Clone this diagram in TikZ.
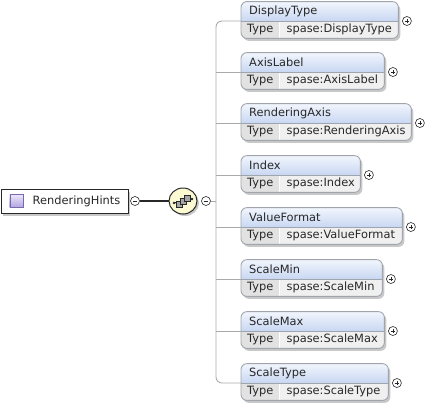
\documentclass[tikz,border=0pt]{standalone}
\usepackage{fontspec}
\setmainfont{DejaVu Sans}
\usetikzlibrary{shapes.geometric,backgrounds}
\definecolor{ink}{RGB}{40,40,40}
\definecolor{frame}{RGB}{160,164,172}
\definecolor{tree}{RGB}{170,170,170}
\definecolor{headtop}{RGB}{242,246,253}
\definecolor{headbot}{RGB}{200,215,242}
\definecolor{typegray}{RGB}{226,226,226}
\definecolor{valgray}{RGB}{240,240,240}
\definecolor{shadowc}{RGB}{200,200,200}
\definecolor{cream}{RGB}{252,250,210}
\definecolor{lavtop}{RGB}{236,230,250}
\definecolor{lavbot}{RGB}{178,164,222}
\definecolor{lavedge}{RGB}{120,104,176}

\tikzset{
  txt/.style={font=\fontsize{11.4}{13}\selectfont, text=ink, inner sep=0pt},
  elbox/.style={anchor=south west, minimum height=19pt, inner sep=0pt},
  elname/.style={txt, anchor=west},
  eltype/.style={txt, anchor=north west, minimum width=38pt, minimum height=17pt},
  elval/.style={txt, anchor=west},
  minusc/.style={circle, draw=ink, fill=white, line width=0.6pt, minimum size=9pt, inner sep=0pt,
    path picture={\draw[ink, line width=0.8pt]
      ([xshift=-2.2pt]path picture bounding box.center) -- ([xshift=2.2pt]path picture bounding box.center);}},
  plusc/.style={minusc,
    path picture={\draw[ink, line width=0.8pt]
      ([xshift=-2.2pt]path picture bounding box.center) -- ([xshift=2.2pt]path picture bounding box.center)
      ([yshift=-2.2pt]path picture bounding box.center) -- ([yshift=2.2pt]path picture bounding box.center);}},
  treeline/.style={draw=tree, line width=0.9pt},
}

\begin{document}
\begin{tikzpicture}[x=1pt, y=-1pt]
  \useasboundingbox (0,0) rectangle (427,408);

  % root element
  \fill[shadowc] (3,192) rectangle (130,216);
  \node[draw=ink, fill=white, line width=1pt, anchor=west, minimum width=127pt,
        minimum height=24pt, inner sep=0pt] (rh) at (0.5,201) {};
  \node[anchor=west, minimum size=13pt, inner sep=0pt, draw=lavedge,
        top color=lavtop, bottom color=lavbot] (rhi) at ([xshift=9pt]rh.west) {};
  \node[txt, anchor=west] (rhn) at ([xshift=32pt]rh.west) {RenderingHints};
  \node[minusc] (rhm) at (135,201) {};

  % sequence compositor
  \fill[shadowc] (185,203) ellipse (14 and 13);
  \node[ellipse, draw=ink, fill=cream, line width=1pt, minimum width=28pt,
        minimum height=26pt, inner sep=0pt] (seq) at (183,201) {};
  \begin{scope}[shift={(seq.center)}]
    \draw[ink, line width=1pt] (-9,2) -- (9,-2);
    \fill[ink] (-9,2) circle (1.3) (9,-2) circle (1.3);
    \draw[ink, fill=gray!70, line width=0.6pt] (-7,0) rectangle (-1,6);
    \draw[ink, fill=gray!70, line width=0.6pt] (-3,-3) rectangle (3,3);
    \draw[ink, fill=gray!70, line width=0.6pt] (1,-6) rectangle (7,0);
  \end{scope}
  \node[minusc] (seqm) at (206,201) {};
  \draw[ink, line width=1.4pt] (rhm) -- (seq);

  % child elements
  \foreach \id/\nm/\y/\w in {dt/DisplayType/21/119, al/AxisLabel/72/105,
      ra/RenderingAxis/123/132, ix/Index/175/81, vf/ValueFormat/227/123,
      smin/ScaleMin/279/103, smax/ScaleMax/331/105, st/ScaleType/383/109} {
    \node[elbox, minimum width=\w+38] (\id) at (241,\y) {};
    \node[elname] (n\id) at ([xshift=8pt]\id.west) {\nm};
    \node[eltype] (t\id) at (\id.south west) {Type};
    \node[elval] (v\id) at ([xshift=7pt]t\id.east) {spase:\nm};
    \node[plusc] (p\id) at ([xshift=8.5pt]\id.south east) {};
    \coordinate (b\id) at (\id.south east |- t\id.south);
    \begin{scope}[on background layer]
      \fill[shadowc, rounded corners=6pt] ([shift={(2pt,-2.5pt)}]\id.north west)
        rectangle ([shift={(2pt,-2.5pt)}]b\id);
      \begin{scope}
        \clip[rounded corners=6pt] (\id.north west) rectangle (b\id);
        \shade[top color=headtop, bottom color=headbot] (\id.north west) rectangle (\id.south east);
        \fill[typegray] (t\id.north west) rectangle (t\id.south east);
        \fill[valgray] (t\id.north east) rectangle (b\id);
        \draw[white, line width=1pt] (t\id.north east) -- (t\id.south east);
      \end{scope}
      \draw[frame, line width=0.9pt, rounded corners=6pt] (\id.north west) rectangle (b\id);
      \draw[frame, line width=0.6pt] (\id.south west) -- (\id.south east);
    \end{scope}
  }

  % tree lines
  \coordinate (spine) at (216,201);
  \draw[treeline, rounded corners=6pt] (dt.south west) -| (spine) |- (st.south west);
  \foreach \id in {al,ra,ix,vf,smin,smax}
    \draw[treeline] (spine |- \id.south west) -- (\id.south west);
  \draw[treeline] (seqm) -- (spine);
\end{tikzpicture}
\end{document}
